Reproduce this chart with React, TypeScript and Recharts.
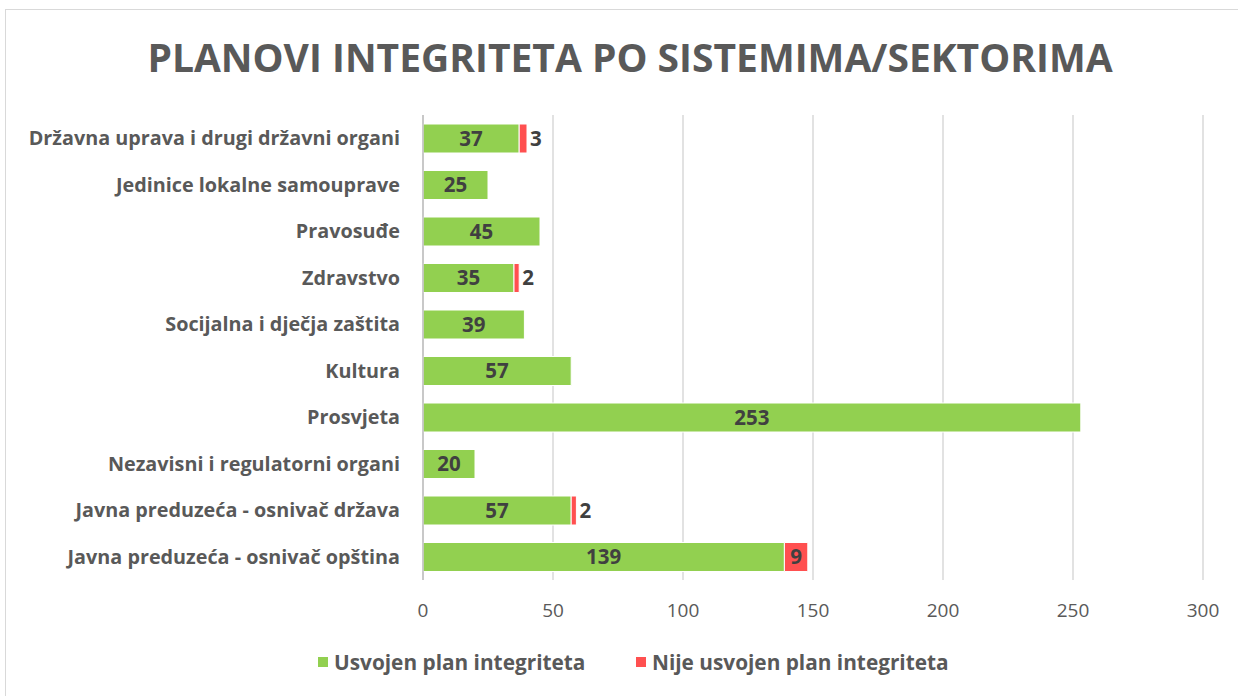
import React from 'react';
import { BarChart, Bar, XAxis, YAxis, CartesianGrid, LabelList } from 'recharts';

// Sectors, top to bottom as in the original chart
const sectors = [
  'Državna uprava i drugi državni organi',
  'Jedinice lokalne samouprave',
  'Pravosuđe',
  'Zdravstvo',
  'Socijalna i dječja zaštita',
  'Kultura',
  'Prosvjeta',
  'Nezavisni i regulatorni organi',
  'Javna preduzeća - osnivač država',
  'Javna preduzeća - osnivač opština',
];
const adopted = [37, 25, 45, 35, 39, 57, 253, 20, 57, 139];
const notAdopted = [3, 0, 0, 2, 0, 0, 0, 0, 2, 9];
const xTicks = [0, 50, 100, 150, 200, 250, 300];

const GREEN = '#92D050';
const RED = '#FF5050';
const FONT = '"Open Sans", sans-serif';

const data = sectors.map((name, i) => ({
  name,
  adopted: adopted[i],
  notAdopted: notAdopted[i] || null,
}));

// small red segments get their label to the right, like Excel did
const RedLabel = (props: any) => {
  const { x, y, width, height, value } = props;
  if (!value) return null;
  const outside = width < 20;
  return (
    <text
      x={outside ? x + width + 3 : x + width / 2}
      y={y + height / 2}
      dy="0.36em"
      textAnchor={outside ? 'start' : 'middle'}
      fill="#404040"
      fontSize={20.5}
      fontWeight={700}
      fontFamily={FONT}
    >
      {value}
    </text>
  );
};

export default function App() {
  return (
    <div style={{ position: 'absolute', left: 0, top: 0, width: 1238, height: 696, background: '#fff', fontFamily: FONT, overflow: 'hidden' }}>
      <div style={{ position: 'absolute', left: 5, top: 9, right: 0, bottom: 0, borderTop: '1px solid #D9D9D9', borderLeft: '1px solid #D9D9D9' }} />
      <div style={{ position: 'absolute', top: 30, left: 0, width: 1260, textAlign: 'center', fontSize: 39, fontWeight: 700, color: '#595959' }}>
        PLANOVI INTEGRITETA PO SISTEMIMA/SEKTORIMA
      </div>
      <div style={{ position: 'absolute', left: 0, top: 0 }}>
        <BarChart
          width={1238}
          height={696}
          data={data}
          layout="vertical"
          margin={{ top: 115, right: 35, left: 0, bottom: 0 }}
          barSize={29}
        >
          <CartesianGrid horizontal={false} stroke="#D9D9D9" strokeWidth={1.5} />
          <XAxis
            type="number"
            domain={[0, 300]}
            ticks={xTicks}
            axisLine={false}
            tickLine={false}
            tickMargin={18}
            height={116}
            tick={{ fill: '#595959', fontSize: 19, fontFamily: FONT }}
          />
          <YAxis
            type="category"
            dataKey="name"
            width={423}
            axisLine={{ stroke: '#BFBFBF', strokeWidth: 1.5 }}
            tickLine={false}
            tickMargin={17}
            tick={{ fill: '#595959', fontSize: 19.8, fontWeight: 700, fontFamily: FONT }}
          />
          <Bar dataKey="adopted" stackId="a" fill={GREEN} stroke="#fff" strokeWidth={1} isAnimationActive={false}>
            <LabelList dataKey="adopted" position="center" fill="#404040" fontSize={20.5} fontWeight={700} fontFamily={FONT} />
          </Bar>
          <Bar dataKey="notAdopted" stackId="a" fill={RED} stroke="#fff" strokeWidth={1} isAnimationActive={false}>
            <LabelList dataKey="notAdopted" content={RedLabel} />
          </Bar>
        </BarChart>
      </div>
      <div style={{ position: 'absolute', top: 648, left: 318, display: 'flex', fontSize: 20.8, fontWeight: 700, color: '#595959' }}>
        <div style={{ display: 'flex', alignItems: 'center', width: 318 }}>
          <span style={{ display: 'inline-block', width: 10, height: 10, background: GREEN, marginRight: 6 }} />
          Usvojen plan integriteta
        </div>
        <div style={{ display: 'flex', alignItems: 'center' }}>
          <span style={{ display: 'inline-block', width: 10, height: 10, background: RED, marginRight: 6 }} />
          Nije usvojen plan integriteta
        </div>
      </div>
    </div>
  );
}
